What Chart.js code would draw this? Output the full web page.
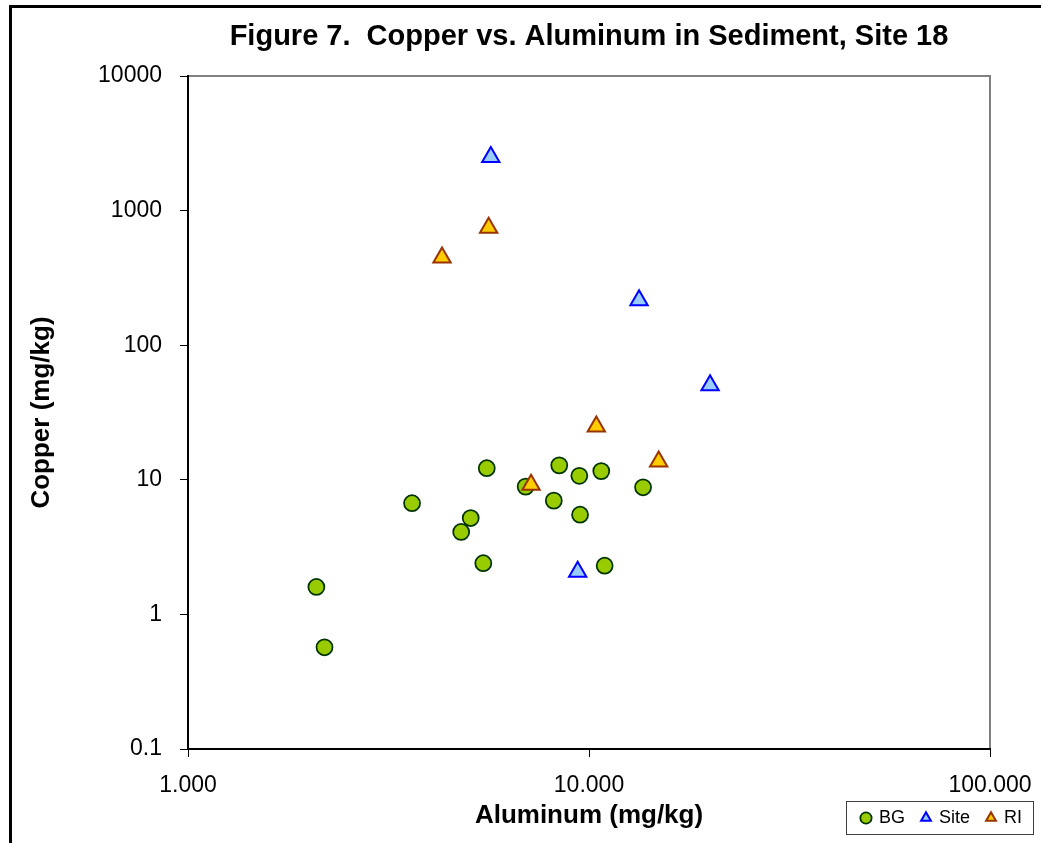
<!DOCTYPE html>
<html>
<head>
<meta charset="utf-8">
<title>Copper vs. Aluminum in Sediment, Site 18</title>
<script src="https://cdn.jsdelivr.net/npm/chart.js@4.4.1/dist/chart.umd.min.js"></script>
<style>
  html, body { margin: 0; padding: 0; background: #fff; overflow: hidden; }
  #frame { position: absolute; left: 9px; top: 5px; width: 1100px; height: 900px; border: 3px solid #000; }
  #plot { position: absolute; left: 0; top: 0; }
</style>
</head>
<body>
<div id="frame"></div>
<canvas id="plot" width="1041" height="843"></canvas>
<script>
// Background samples (BG)
const bgAluminum = [5560, 8430, 9460, 10730, 6950, 3620, 8170, 13640, 5070, 9500, 4800, 5450, 10940, 2090, 2190];
const bgCopper   = [12.2, 12.8, 10.7, 11.6, 8.9, 6.7, 7.0, 8.8, 5.2, 5.5, 4.1, 2.4, 2.3, 1.6, 0.57];

// Site samples
const siteAluminum = [5690, 13330, 20040, 9370];
const siteCopper   = [2500, 216, 50.4, 2.07];

// RI samples
const riAluminum = [5620, 4300, 10430, 7170, 14920];
const riCopper   = [745, 448, 24.9, 9.2, 13.7];

// Axis ticks
const xTickValues = [1000, 10000, 100000];
const xTickLabels = ['1,000', '10,000', '100,000'];
const yTickValues = [0.1, 1, 10, 100, 1000, 10000];
const yTickLabels = ['0.1', '1', '10', '100', '1000', '10000'];

const toPoints = (xs, ys) => xs.map((x, i) => ({ x: x, y: ys[i] }));

Chart.defaults.font.family = "'Liberation Sans', Arial, sans-serif";
Chart.defaults.color = '#000';

// gray frame round the plot area, the black axes are drawn over it
const plotFrame = {
  id: 'plotFrame',
  beforeDraw(chart) {
    const { ctx, chartArea: a } = chart;
    ctx.save();
    ctx.strokeStyle = '#808080';
    ctx.lineWidth = 2;
    ctx.strokeRect(a.left, a.top, a.right - a.left, a.bottom - a.top);
    ctx.restore();
  }
};

// box round the legend items
const legendFrame = {
  id: 'legendFrame',
  afterDraw(chart) {
    const boxes = chart.legend.legendHitBoxes;
    if (!boxes || !boxes.length) return;
    const left = Math.min(...boxes.map(b => b.left)) - 16;
    const right = Math.max(...boxes.map(b => b.left + b.width)) + 11;
    const top = Math.min(...boxes.map(b => b.top)) - 8;
    const bottom = Math.max(...boxes.map(b => b.top + b.height)) + 7;
    const ctx = chart.ctx;
    ctx.save();
    ctx.strokeStyle = '#404040';
    ctx.lineWidth = 1;
    ctx.strokeRect(Math.round(left) + 0.5, Math.round(top) + 0.5, Math.round(right - left), Math.round(bottom - top));
    ctx.restore();
  }
};

const ctx = document.getElementById('plot').getContext('2d');

new Chart(ctx, {
  type: 'scatter',
  data: {
    datasets: [
      {
        label: 'BG',
        data: toPoints(bgAluminum, bgCopper),
        pointStyle: 'circle',
        pointRadius: 8,
        borderWidth: 1.75,
        backgroundColor: '#99CC00',
        borderColor: '#003300',
        order: 3
      },
      {
        label: 'Site',
        data: toPoints(siteAluminum, siteCopper),
        pointStyle: 'triangle',
        pointRadius: 10,
        borderWidth: 2,
        backgroundColor: '#99CCFF',
        borderColor: '#0000FF',
        order: 2
      },
      {
        label: 'RI',
        data: toPoints(riAluminum, riCopper),
        pointStyle: 'triangle',
        pointRadius: 10,
        borderWidth: 2,
        backgroundColor: '#FFCC00',
        borderColor: '#993300',
        order: 1
      }
    ]
  },
  options: {
    responsive: false,
    animation: false,
    events: [],
    layout: { padding: { left: 0, top: 0, right: 2, bottom: 6 } },
    scales: {
      x: {
        type: 'logarithmic',
        min: 1000,
        max: 100000,
        afterBuildTicks: scale => { scale.ticks = xTickValues.map(v => ({ value: v })); },
        afterFit: scale => { scale.height = 43; scale.paddingRight = 51; },
        ticks: {
          font: { size: 23 },
          padding: 15,
          maxRotation: 0,
          callback: (value, index) => xTickLabels[index]
        },
        grid: { display: true, drawOnChartArea: false, drawTicks: true, tickLength: 8, color: '#000' },
        border: { display: true, color: '#000', width: 2 },
        title: {
          display: true,
          text: 'Aluminum (mg/kg)',
          font: { size: 26, weight: 'bold' },
          padding: { top: 0, bottom: -39 }
        }
      },
      y: {
        type: 'logarithmic',
        min: 0.1,
        max: 10000,
        afterBuildTicks: scale => { scale.ticks = yTickValues.map(v => ({ value: v })); },
        afterFit: scale => { scale.width = 188; },
        ticks: {
          font: { size: 23 },
          padding: 18,
          callback: (value, index) => yTickLabels[index]
        },
        grid: { display: true, drawOnChartArea: false, drawTicks: true, tickLength: 8, color: '#000' },
        border: { display: true, color: '#000', width: 2 },
        title: {
          display: true,
          text: 'Copper (mg/kg)',
          font: { size: 26, weight: 'bold' },
          padding: { top: 26, bottom: 0 }
        }
      }
    },
    plugins: {
      title: {
        display: true,
        text: 'Figure 7.  Copper vs. Aluminum in Sediment, Site 18',
        font: { size: 29, weight: 'bold' },
        color: '#000',
        fullSize: false,
        padding: { top: 20, bottom: 21.2 }
      },
      legend: {
        display: true,
        position: 'bottom',
        align: 'end',
        labels: {
          usePointStyle: true,
          boxWidth: 8,
          boxHeight: 8,
          padding: 17,
          font: { size: 18 },
          color: '#000',
          sort: (a, b) => a.datasetIndex - b.datasetIndex
        }
      },
      tooltip: { enabled: false }
    }
  },
  plugins: [plotFrame, legendFrame]
});
</script>
</body>
</html>
